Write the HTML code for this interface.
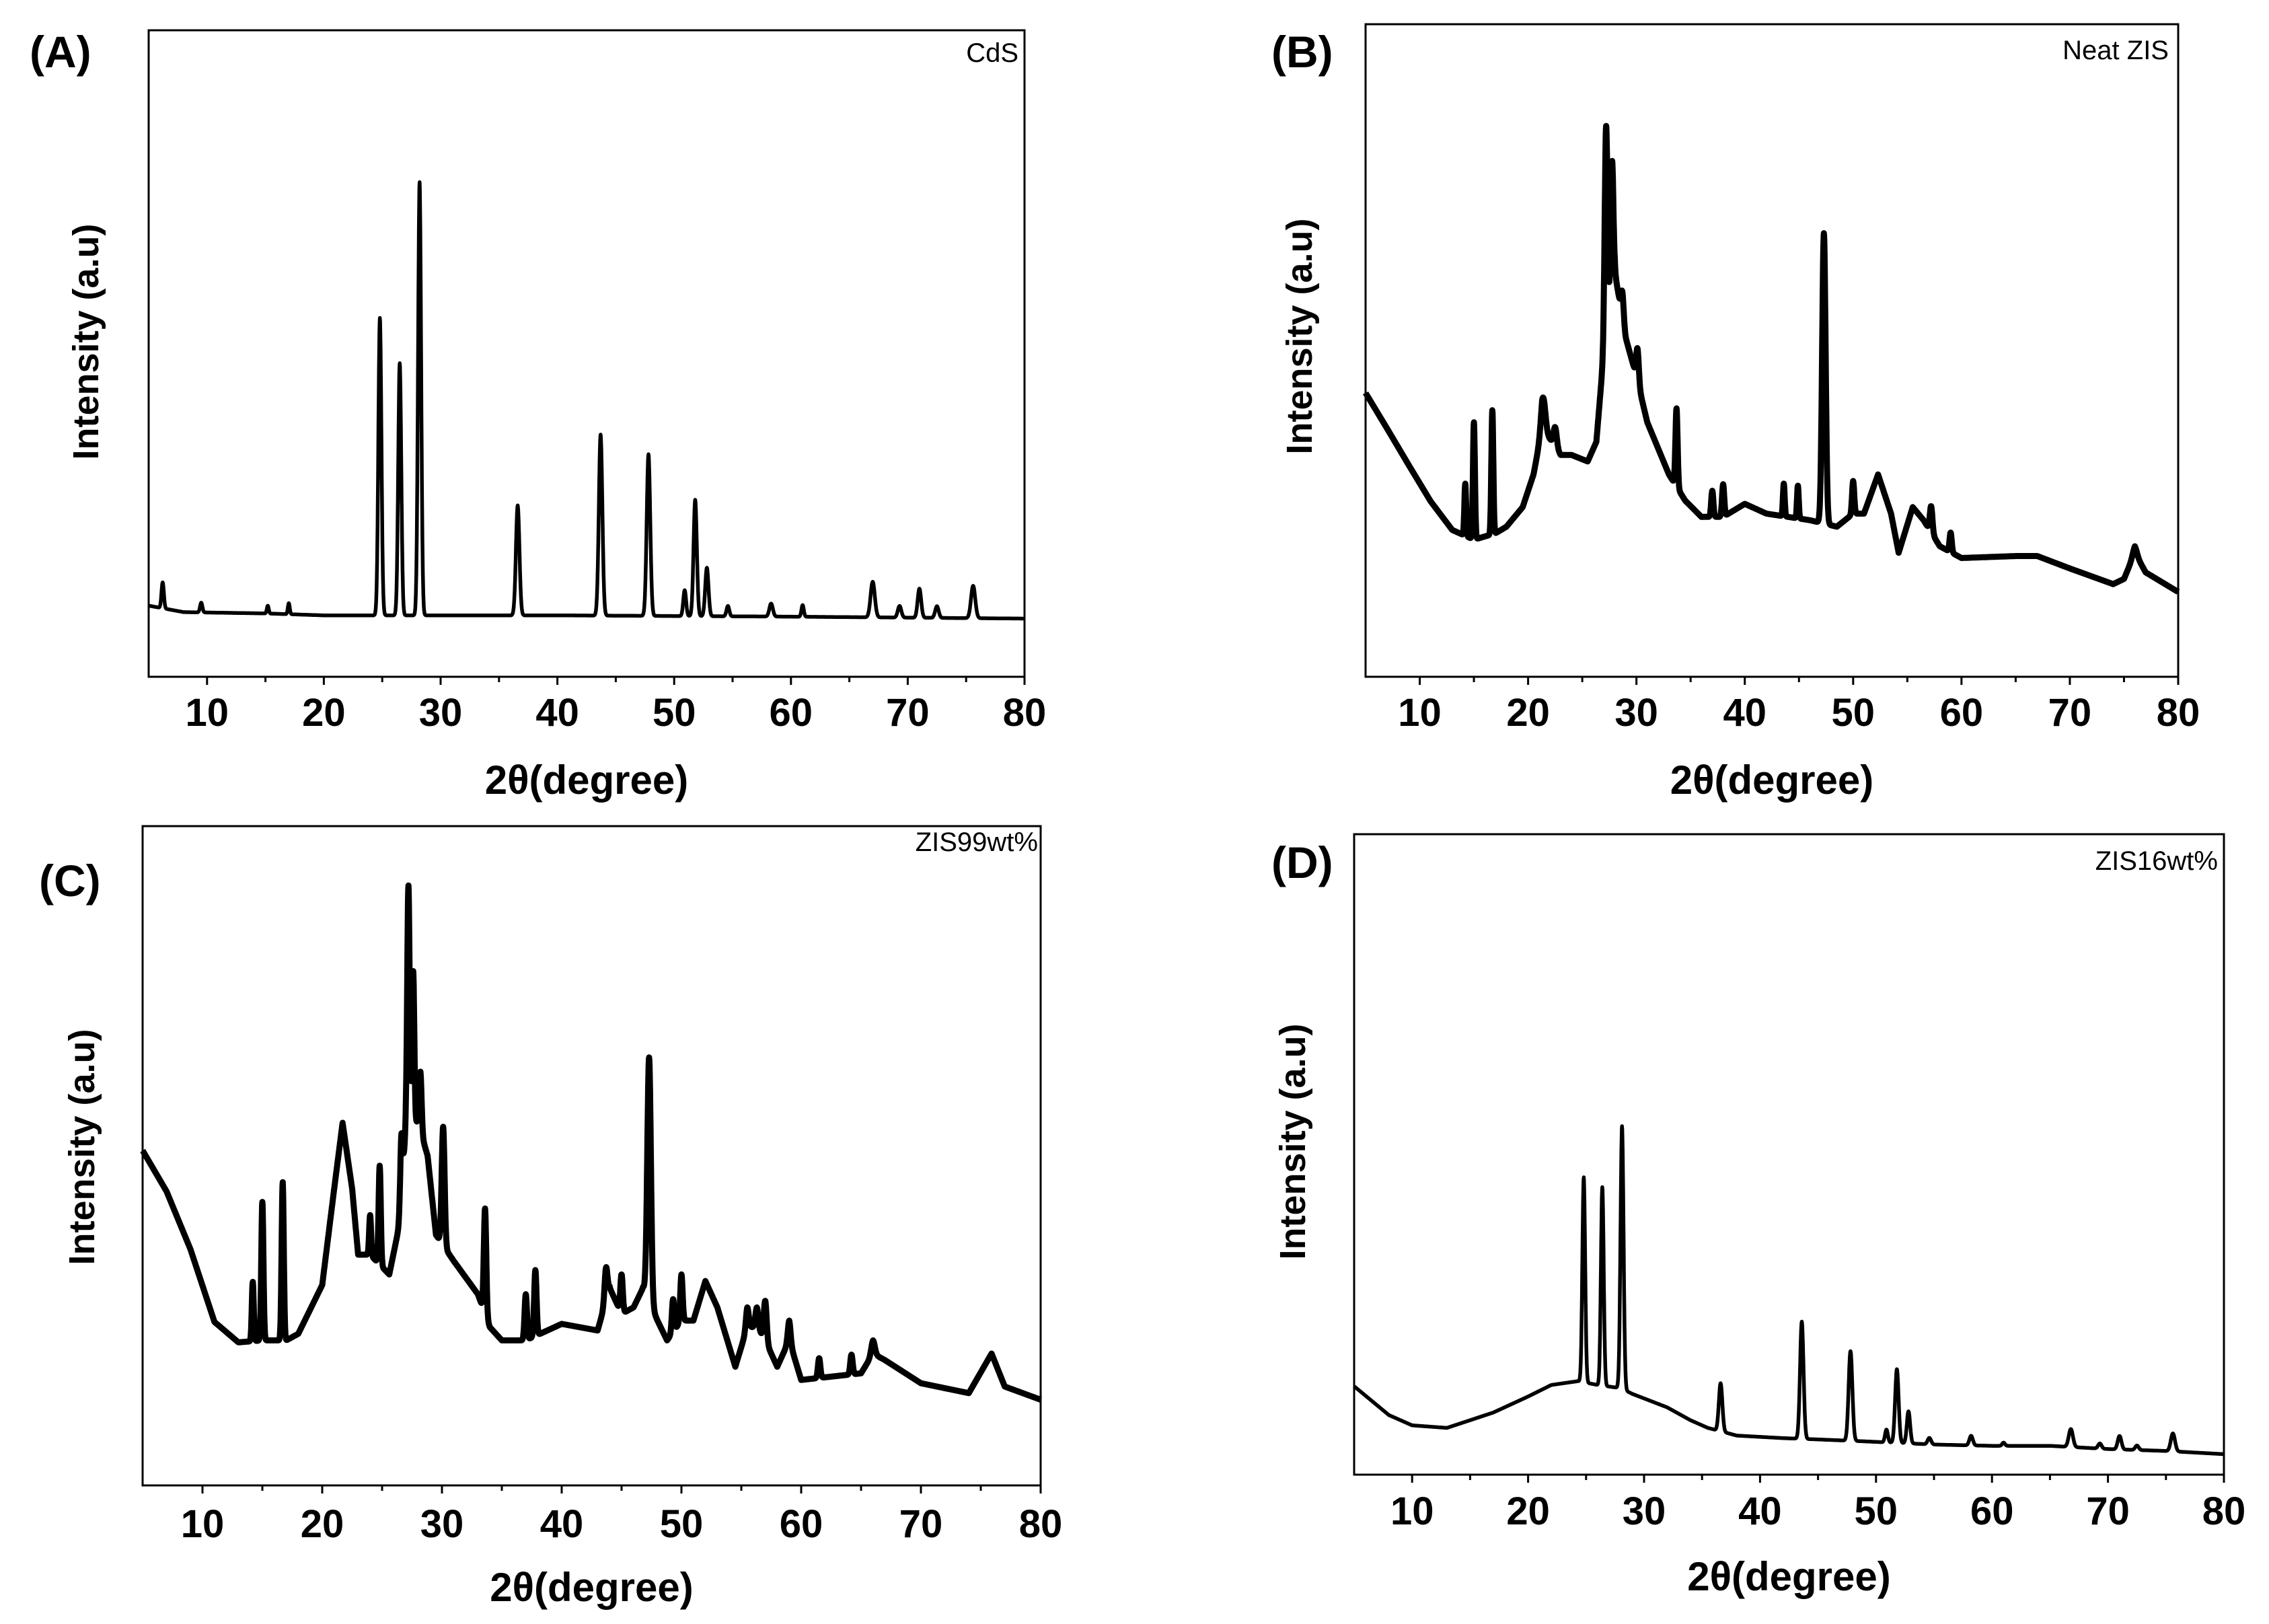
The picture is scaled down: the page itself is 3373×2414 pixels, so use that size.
<!DOCTYPE html>
<html><head><meta charset="utf-8"><style>
html,body{margin:0;padding:0;background:#fff}
svg{display:block}
text{font-family:"Liberation Sans",Arial,sans-serif;fill:#000}
.tk{font-size:58px;font-weight:bold}
.ttl{font-size:60px;font-weight:bold}
.yt{font-size:54px;font-weight:bold}
.pl{font-size:66px;font-weight:bold}
.ins{font-size:40px}
</style></head><body>
<svg id="fig" width="3373" height="2414" viewBox="0 0 3373 2414" xmlns="http://www.w3.org/2000/svg"></svg>
<script>
// ---- data (x in degrees 2θ, y in % of plot height) ----
const xTicks = [10,20,30,40,50,60,70,80];
const minorTicks = [15,25,35,45,55,65,75];

const baseA = [[5,11],[8,10],[15,9.8],[20,9.5],[30,9.5],[40,9.5],[60,9.3],[80,9]];
const peaksA = [[6.2,4,0.1],[9.5,1.5,0.1],[15.2,1.2,0.08],[17,1.7,0.08],[24.8,46,0.13],[26.5,39,0.13],[28.2,67,0.13],[36.6,17,0.15],[43.7,28,0.15],[47.8,25,0.15],[50.9,4,0.12],[51.8,18,0.14],[52.8,7.5,0.14],[54.6,1.6,0.12],[58.3,2,0.15],[61,1.8,0.1],[67,5.5,0.18],[69.3,1.8,0.15],[71,4.5,0.15],[72.5,1.8,0.15],[75.6,5,0.18]];

const baseB = [[5,43.5],[7,38],[9,32.4],[11,26.9],[13,22.5],[15,21],[17,22],[18,23],[19.5,26],[20.5,31],[21.3,38],[22.2,36],[23,34],[24,34],[25.5,33],[26.3,36],[27,50],[28,62],[29,52],[30,46],[31,39],[33,31],[34.5,27],[36,24.5],[38,24.5],[40,26.5],[42,25],[46,24],[48.5,23],[50,25],[51,25],[52.3,31],[53.5,25],[54.2,19],[55.5,26],[56.5,24],[58,20],[60,18.2],[65,18.5],[67,18.5],[70,16.6],[74,14.2],[75,15],[76,19],[77,16],[80,13]];
const peaksB = [[14.2,8,0.08],[15,18,0.09],[16.7,19,0.09],[21.4,5,0.2],[22.5,3,0.15],[27.2,32,0.13],[27.75,20,0.12],[28.7,4,0.12],[30.1,5,0.12],[33.7,12,0.1],[37,4,0.1],[38,5,0.1],[43.6,5,0.08],[44.9,5,0.08],[47.3,44.5,0.16],[50,5,0.1],[57.2,4,0.12],[59,3,0.1],[76,1,0.2]];

const baseC = [[5,50.8],[7,44.6],[9,35.8],[11,24.8],[13,21.7],[15,22],[17,22],[18,23],[20,30.4],[21,45],[21.7,55],[22.5,45],[23,35],[24,35],[25.6,32],[26.5,40],[27,55],[28,55],[28.8,50],[29.5,38],[31,34],[33,29],[34,24],[35,22],[37,22],[40,24.5],[43,23.5],[44,30],[45,26],[46,27],[46.8,30],[48,25],[48.8,22],[50,25],[51,25],[52,31],[53,27],[54.5,18],[55.5,24],[56.3,24],[57,22],[58,18],[59,22],[60,16],[65,17],[66,20],[67,19],[70,15.5],[74,14],[75.9,20],[77,15],[80,13]];
const peaksC = [[14.2,9,0.08],[15,21,0.09],[16.7,24,0.09],[24,6,0.08],[24.8,15,0.09],[26.6,10,0.1],[27.2,36,0.1],[27.6,23,0.09],[28.2,9,0.1],[30.1,18,0.12],[33.6,16,0.1],[37,7,0.1],[37.8,10,0.1],[43.7,5,0.12],[45,6,0.1],[47.3,37,0.15],[49.3,5,0.1],[50,7,0.1],[55.5,3,0.12],[56.3,3,0.12],[57,6,0.12],[59,3,0.12],[61.5,3,0.1],[64.2,3,0.1],[66,2,0.15]];

const baseD = [[5,13.8],[8,9.3],[10,7.7],[13,7.3],[17,9.7],[20,12.2],[22,14],[24.3,14.6],[26,14],[28,13.5],[29,12.6],[32,10.5],[34,8.5],[35.5,7.3],[38,6.1],[42,5.7],[45,5.5],[49,5.2],[55,4.7],[60,4.5],[65,4.5],[70,4],[75,3.7],[80,3.2]];
const peaksD = [[24.8,32,0.12],[26.4,31,0.12],[28.1,41,0.13],[36.6,7.5,0.15],[43.6,18.3,0.15],[47.8,14,0.16],[50.9,2,0.12],[51.8,11.5,0.15],[52.8,5,0.14],[54.6,1,0.15],[58.2,1.5,0.15],[61,0.5,0.12],[66.8,2.8,0.18],[69.3,0.8,0.15],[71,2.1,0.16],[72.5,0.7,0.15],[75.6,2.8,0.18]];

const NS = "http://www.w3.org/2000/svg";
const svg = document.getElementById('fig');
function mk(tag, attrs, parent){
  const e = document.createElementNS(NS, tag);
  for (const k in attrs) e.setAttribute(k, attrs[k]);
  (parent||svg).appendChild(e);
  return e;
}
function interp(base, x){
  for (let i=0;i<base.length-1;i++){
    const a=base[i], b=base[i+1];
    if (x>=a[0] && x<=b[0]) return a[1]+(b[1]-a[1])*(x-a[0])/(b[0]-a[0]);
  }
  return x<base[0][0]?base[0][1]:base[base.length-1][1];
}
function drawPanel(p){
  const g = mk('g', {});
  
  
  const W=p.x1-p.x0, H=p.y1-p.y0;
  const sx = v => p.x0 + (v-5)/75*W;
  const sy = v => p.y1 - v/100*H;
  let d='';
  for (let x=5; x<=80.0001; x+=0.02){
    let y=interp(p.base,x);
    for (const pk of p.peaks){ const t=(x-pk[0])/pk[2]; y+=pk[1]*Math.exp(-0.5*t*t); }
    d += (d?'L':'M')+sx(x).toFixed(1)+','+sy(y).toFixed(1);
  }
  const line = mk('path',{d:d,fill:'none',stroke:'#000','stroke-width':p.sw,'stroke-linejoin':'round'},g);
  
  
  const fr = mk('rect',{x:p.x0,y:p.y0,width:W,height:H,fill:'none',stroke:'#000','stroke-width':3},g);
  
  
  for (const t of xTicks){
    mk('line',{x1:sx(t),x2:sx(t),y1:p.y1,y2:p.y1+12,stroke:'#000','stroke-width':3},g);
    const tl = mk('text',{x:sx(t),y:p.tickY,'text-anchor':'middle','class':'tk'},g);
    
    
    tl.textContent = t;
  }
  for (const t of minorTicks){
    mk('line',{x1:sx(t),x2:sx(t),y1:p.y1,y2:p.y1+8,stroke:'#000','stroke-width':3},g);
  }
  const xt = mk('text',{x:(p.x0+p.x1)/2,y:p.titleY,'text-anchor':'middle','class':'ttl'},g);
  
  
  xt.textContent = '2θ(degree)';
  const yt = mk('text',{x:0,y:0,'text-anchor':'middle','class':'yt',transform:'translate('+p.ytX+','+p.ytY+') rotate(-90)'},g);
  
  
  yt.textContent = 'Intensity (a.u)';
  const pl = mk('text',{x:p.plX,y:p.plY,'class':'pl'},g);
  
  
  pl.textContent = p.label;
  const ins = mk('text',{x:p.insX,y:p.insY,'text-anchor':'end','class':'ins'},g);
  
  
  ins.textContent = p.sample;
}
drawPanel({name:'panel-a',label:'(A)',sample:'CdS',base:baseA,peaks:peaksA,sw:5.5,x0:221,x1:1523,y0:45,y1:1006,tickY:1079,titleY:1180,ytX:146,ytY:508,plX:44,plY:100,insX:1514,insY:92});
drawPanel({name:'panel-b',label:'(B)',sample:'Neat ZIS',base:baseB,peaks:peaksB,sw:9,x0:2030,x1:3238,y0:36,y1:1006,tickY:1079,titleY:1180,ytX:1950,ytY:500,plX:1890,plY:100,insX:3224,insY:88});
drawPanel({name:'panel-c',label:'(C)',sample:'ZIS99wt%',base:baseC,peaks:peaksC,sw:9,x0:212,x1:1547,y0:1228,y1:2208,tickY:2285,titleY:2380,ytX:140,ytY:1705,plX:58,plY:1332,insX:1543,insY:1265});
drawPanel({name:'panel-d',label:'(D)',sample:'ZIS16wt%',base:baseD,peaks:peaksD,sw:5.5,x0:2013,x1:3306,y0:1240,y1:2192,tickY:2266,titleY:2364,ytX:1940,ytY:1697,plX:1890,plY:1305,insX:3297,insY:1293});
</script>
</body></html>
